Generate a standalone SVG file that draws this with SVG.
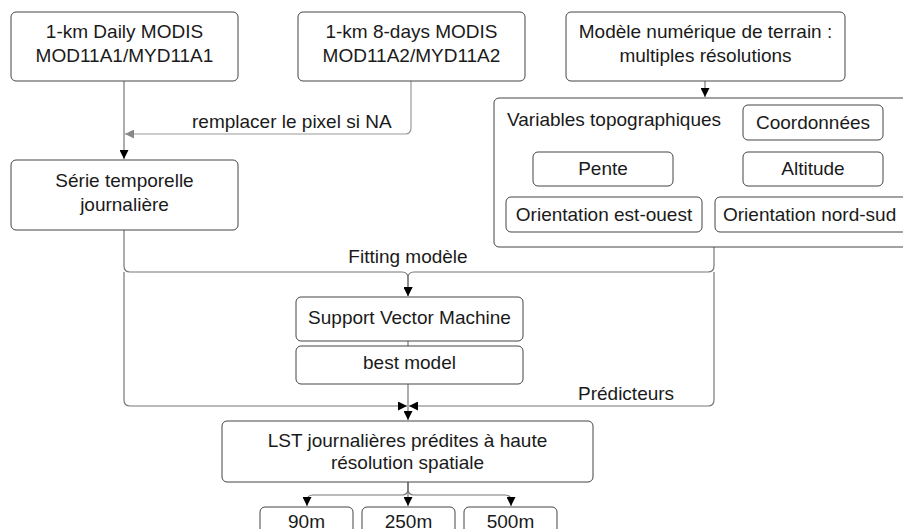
<svg xmlns="http://www.w3.org/2000/svg" width="903" height="529" viewBox="0 0 903 529">
<defs>
<style>
.box{fill:#fff;stroke:#444;stroke-width:1}
.t{font-family:"Liberation Sans",Arial,sans-serif;font-size:19px;fill:#1a1a1a;text-anchor:middle}
.ts{font-family:"Liberation Sans",Arial,sans-serif;font-size:19px;fill:#1a1a1a}
.c{fill:none;stroke:#777;stroke-width:1.2}
.cg{fill:none;stroke:#999;stroke-width:1.2}
</style>
<marker id="ah" viewBox="0 0 10 10" refX="10" refY="5" markerWidth="9" markerHeight="9" markerUnits="userSpaceOnUse" orient="auto"><path d="M0,0 L10,5 L0,10 z" fill="#000"/></marker>
<marker id="ahg" viewBox="0 0 10 10" refX="10" refY="5" markerWidth="9" markerHeight="9" markerUnits="userSpaceOnUse" orient="auto"><path d="M0,0 L10,5 L0,10 z" fill="#888"/></marker>
</defs>
<rect width="903" height="529" fill="#fff"/>

<g id="connectors">
<path class="c" d="M124,81 V159" marker-end="url(#ah)"/>
<path class="cg" d="M411,81 V128 Q411,134 405,134 H125" marker-end="url(#ahg)"/>
<path class="c" d="M705,81 V97" marker-end="url(#ah)"/>
<path class="c" d="M124,230 V266 Q124,272 130,272 H402 Q408,272 408,278 V296" marker-end="url(#ah)"/>
<path class="c" d="M714,247 V266 Q714,272 708,272 H414 Q408,272 408,278 V296" marker-end="url(#ah)"/>
<path class="c" d="M124,272 V400 Q124,406 130,406 H407" marker-end="url(#ah)"/>
<path class="c" d="M714,272 V400 Q714,406 708,406 H409" marker-end="url(#ah)"/>
<path class="c" d="M408,341 V346"/>
<path class="c" d="M408,384 V420" marker-end="url(#ah)"/>
<path class="c" d="M408,482 V506" marker-end="url(#ah)"/>
<path class="c" d="M408,482 V489 Q408,495 402,495 H313 Q307,495 307,501 V506" marker-end="url(#ah)"/>
<path class="c" d="M408,482 V489 Q408,495 414,495 H505 Q511,495 511,501 V506" marker-end="url(#ah)"/>
<text class="ts" x="192" y="128">remplacer le pixel si NA</text>
<text class="t" x="408" y="263">Fitting modèle</text>
<text class="ts" x="578" y="400">Prédicteurs</text>
</g>

<g id="n1">
<rect class="box" x="11" y="12" width="227" height="69" rx="5"/>
<text class="t" x="124.5" y="38">1-km Daily MODIS</text>
<text class="t" x="124.5" y="62">MOD11A1/MYD11A1</text>
</g>
<g id="n2">
<rect class="box" x="298" y="12" width="227" height="69" rx="5"/>
<text class="t" x="411.5" y="38">1-km 8-days MODIS</text>
<text class="t" x="411.5" y="62">MOD11A2/MYD11A2</text>
</g>
<g id="n3">
<rect class="box" x="566" y="12" width="279" height="69" rx="5"/>
<text class="t" x="705.5" y="38">Modèle numérique de terrain :</text>
<text class="t" x="705.5" y="62">multiples résolutions</text>
</g>
<g id="topo">
<rect class="box" x="494" y="98" width="430" height="149" rx="5"/>
<text class="ts" x="507" y="126">Variables topographiques</text>
</g>
<g id="coord">
<rect class="box" x="743" y="105" width="140" height="35" rx="5"/>
<text class="t" x="813" y="129">Coordonnées</text>
</g>
<g id="pente">
<rect class="box" x="533" y="152" width="140" height="34" rx="5"/>
<text class="t" x="603" y="175">Pente</text>
</g>
<g id="alt">
<rect class="box" x="743" y="152" width="140" height="34" rx="5"/>
<text class="t" x="813" y="175">Altitude</text>
</g>
<g id="eo">
<rect class="box" x="506" y="197" width="196" height="35" rx="5"/>
<text class="t" x="604" y="221">Orientation est-ouest</text>
</g>
<g id="ns">
<rect class="box" x="715" y="197" width="196" height="35" rx="5"/>
<text class="ts" x="723" y="221">Orientation nord-sud</text>
</g>
<g id="serie">
<rect class="box" x="11" y="160" width="227" height="70" rx="5"/>
<text class="t" x="124.5" y="187">Série temporelle</text>
<text class="t" x="124.5" y="211">journalière</text>
</g>
<g id="svm">
<rect class="box" x="296" y="297" width="227" height="44" rx="5"/>
<text class="t" x="409.5" y="324">Support Vector Machine</text>
</g>
<g id="best">
<rect class="box" x="296" y="346" width="227" height="38" rx="5"/>
<text class="t" x="409.5" y="369">best model</text>
</g>
<g id="lst">
<rect class="box" x="222" y="421" width="371" height="61" rx="5"/>
<text class="t" x="407.5" y="447">LST journalières prédites à haute</text>
<text class="t" x="407.5" y="469">résolution spatiale</text>
</g>
<g id="r90">
<rect class="box" x="260" y="507" width="93" height="40" rx="5"/>
<text class="t" x="306.5" y="528">90m</text>
</g>
<g id="r250">
<rect class="box" x="362" y="507" width="93" height="40" rx="5"/>
<text class="t" x="408.5" y="528">250m</text>
</g>
<g id="r500">
<rect class="box" x="464" y="507" width="93" height="40" rx="5"/>
<text class="t" x="510.5" y="528">500m</text>
</g>
</svg>
